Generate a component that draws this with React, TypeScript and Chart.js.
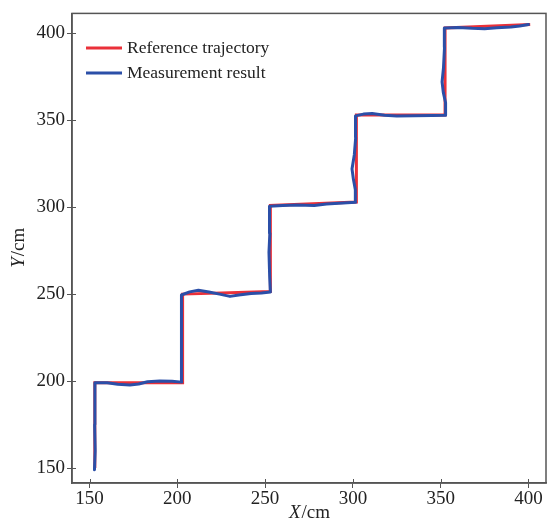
import React, { useEffect, useRef } from "react";
import { Chart, registerables } from "chart.js";

Chart.register(...registerables);

const xTicks = [150, 200, 250, 300, 350, 400];
const yTicks = [150, 200, 250, 300, 350, 400];

const refX = [153, 153, 203, 203, 253, 253, 302, 302, 352.5, 352.5, 401];
const refY = [150, 199, 199, 250, 251.5, 301, 303, 353, 353, 403, 405];

const measX = [
  152.8, 153.2, 152.9, 153.1, 153,
  160, 166, 173, 178, 183, 190, 197, 202.5,
  202.5, 202.2, 202.4, 202.3,
  207, 212, 218, 224, 230, 235, 242, 248, 253,
  252.6, 252.2, 252.7, 252.5,
  260, 268, 278, 285, 292, 301.5,
  301.4, 300.3, 299.5, 300.8, 301.6, 301.5,
  306, 311, 318, 325, 335, 345, 352.5,
  352.8, 351.5, 350.8, 351.6, 352.2, 352.1,
  360, 368, 375, 382, 390, 395, 400,
];
const measY = [
  149, 160, 175, 190, 199,
  199, 198.2, 197.8, 198.3, 199.6, 200, 199.9, 199.4,
  215, 228, 240, 249.5,
  251.3, 252.2, 251.2, 250, 248.7, 249.5, 250.3, 250.7, 251.2,
  260, 274, 285, 300.5,
  301, 301.2, 301, 301.8, 302.2, 302.8,
  310, 316, 322, 330, 340, 352.5,
  353.5, 353.8, 352.8, 352.4, 352.6, 352.7, 352.8,
  360, 366, 372, 380, 392, 403,
  403.3, 402.8, 402.6, 403.1, 403.6, 404.2, 405,
];

const seriesNames = ["Reference trajectory", "Measurement result"];
const seriesColors = ["#ea3039", "#2b4fa8"];

const FONT = "'Liberation Serif', 'DejaVu Serif', serif";
const TEXT = "#222222";
const AXIS = "#555555";

const decorPlugin = {
  id: "decor",
  afterDraw(chart: any) {
    const { ctx, chartArea } = chart;
    const { left, right, top, bottom } = chartArea;
    const xs = chart.scales.x;
    const ys = chart.scales.y;
    ctx.save();
    ctx.strokeStyle = AXIS;
    ctx.lineWidth = 1.5;
    ctx.strokeRect(left, top, right - left, bottom - top);
    ctx.lineWidth = 1;
    ctx.beginPath();
    xTicks.forEach((v) => {
      const px = Math.round(xs.getPixelForValue(v)) + 0.5;
      ctx.moveTo(px, bottom);
      ctx.lineTo(px, bottom - 4);
    });
    yTicks.forEach((v) => {
      const py = Math.round(ys.getPixelForValue(v)) + 0.5;
      ctx.moveTo(left, py);
      ctx.lineTo(left + 4, py);
    });
    ctx.stroke();

    ctx.font = `17.5px ${FONT}`;
    ctx.textBaseline = "middle";
    ctx.textAlign = "left";
    seriesNames.forEach((name, i) => {
      const y = 48 + i * 25;
      ctx.strokeStyle = seriesColors[i];
      ctx.lineWidth = 3;
      ctx.beginPath();
      ctx.moveTo(86, y);
      ctx.lineTo(122, y);
      ctx.stroke();
      ctx.fillStyle = TEXT;
      ctx.fillText(name, 127, y);
    });

    const drawTitle = (v: string, rest: string, x: number, y: number, rot: number) => {
      ctx.save();
      ctx.translate(x, y);
      ctx.rotate(rot);
      ctx.font = `italic 19px ${FONT}`;
      const w1 = ctx.measureText(v).width;
      ctx.font = `19px ${FONT}`;
      const w2 = ctx.measureText(rest).width;
      const start = -(w1 + w2) / 2;
      ctx.fillStyle = TEXT;
      ctx.textAlign = "left";
      ctx.textBaseline = "middle";
      ctx.font = `italic 19px ${FONT}`;
      ctx.fillText(v, start, 0);
      ctx.font = `19px ${FONT}`;
      ctx.fillText(rest, start + w1 + 1, 0);
      ctx.restore();
    };
    drawTitle("X", "/cm", (left + right) / 2, 513, 0);
    drawTitle("Y", "/cm", 19, (top + bottom) / 2, -Math.PI / 2);
    ctx.restore();
  },
};

export default function App() {
  const ref = useRef<HTMLCanvasElement | null>(null);
  useEffect(() => {
    document.body.style.margin = "0";
    const canvas = ref.current;
    if (!canvas) return;
    const chart = new Chart(canvas, {
      type: "scatter",
      data: {
        datasets: [
          {
            label: seriesNames[0],
            data: refX.map((x, i) => ({ x, y: refY[i] })),
            borderColor: seriesColors[0],
            backgroundColor: seriesColors[0],
            showLine: true,
            pointRadius: 0,
            borderWidth: 3,
            order: 2,
          },
          {
            label: seriesNames[1],
            data: measX.map((x, i) => ({ x, y: measY[i] })),
            borderColor: seriesColors[1],
            backgroundColor: seriesColors[1],
            showLine: true,
            pointRadius: 0,
            borderWidth: 3,
            borderJoinStyle: "round",
            borderCapStyle: "round",
            order: 1,
          },
        ],
      },
      options: {
        animation: false,
        responsive: false,
        devicePixelRatio: 1,
        layout: { padding: { top: 10, right: 2, left: 0, bottom: 0 } },
        plugins: { legend: { display: false }, tooltip: { enabled: false } },
        scales: {
          x: {
            type: "linear",
            min: 140,
            max: 410,
            afterBuildTicks: (s: any) => {
              s.ticks = xTicks.map((v) => ({ value: v }));
            },
            afterFit: (s: any) => {
              s.height = 43;
            },
            grid: { drawOnChartArea: false, drawTicks: true, tickLength: 5, color: AXIS },
            border: { display: true, color: AXIS, width: 1.5 },
            ticks: { color: TEXT, font: { family: FONT, size: 19 }, padding: 0, maxRotation: 0 },
          },
          y: {
            type: "linear",
            min: 141.4,
            max: 411.4,
            afterBuildTicks: (s: any) => {
              s.ticks = yTicks.map((v) => ({ value: v }));
            },
            afterFit: (s: any) => {
              s.width = 72;
            },
            grid: { drawOnChartArea: false, drawTicks: true, tickLength: 5, color: AXIS },
            border: { display: true, color: AXIS, width: 1.5 },
            ticks: { color: TEXT, font: { family: FONT, size: 19 }, padding: 2 },
          },
        },
      },
      plugins: [decorPlugin],
    });
    return () => chart.destroy();
  }, []);
  return (
    <div style={{ width: 548, height: 526 }}>
      <canvas ref={ref} width={548} height={526} style={{ display: "block" }} />
    </div>
  );
}
